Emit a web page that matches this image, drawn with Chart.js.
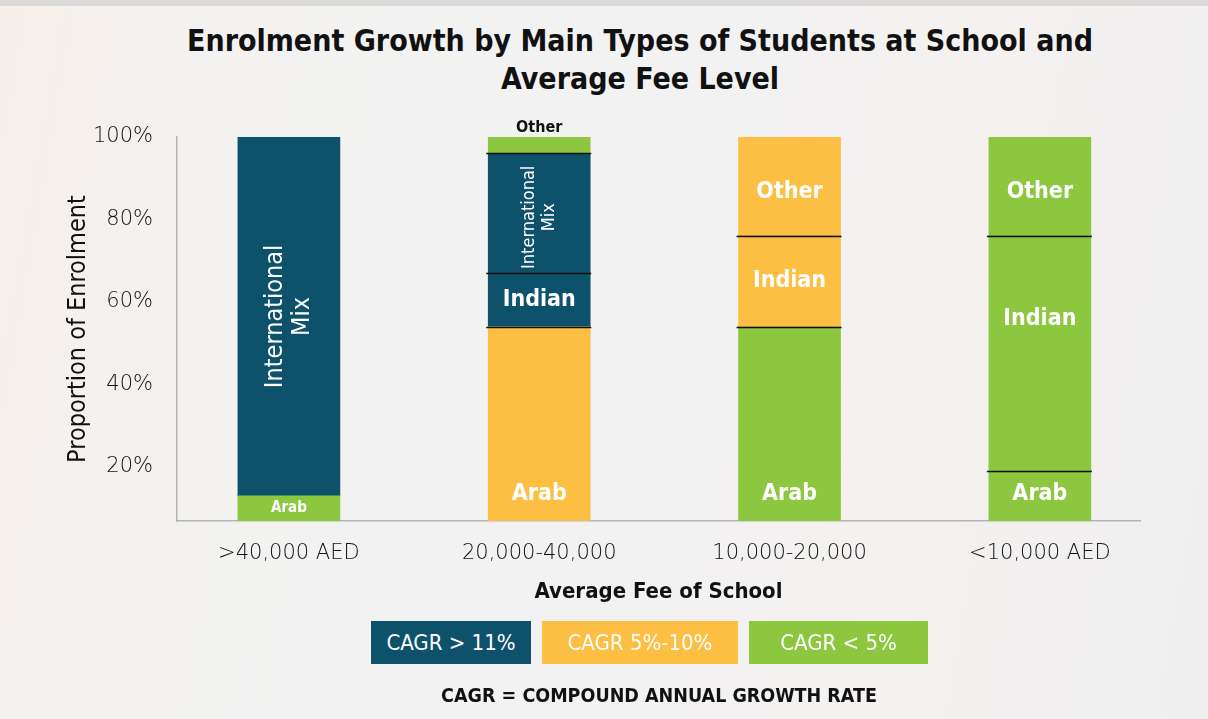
<!DOCTYPE html>
<html>
<head>
<meta charset="utf-8">
<script src="https://cdn.jsdelivr.net/npm/chart.js@4.4.1/dist/chart.umd.min.js"></script>
<style>
  html, body { margin: 0; padding: 0; }
  body {
    width: 1208px; height: 719px; overflow: hidden; position: relative;
    background: linear-gradient(100deg, #f7efe9 0%, #f3f2f1 18%, #f2f2f2 50%, #f4f1f0 75%, #efefef 100%);
    font-family: "DejaVu Sans Condensed", "DejaVu Sans", sans-serif;
  }
  #topband { position: absolute; left: 0; top: 0; width: 1208px; height: 6px; background: #dcdad9; }
  #title {
    position: absolute; left: 0; width: 1280px; top: 22px; text-align: center;
    font-size: 30px; font-weight: bold; line-height: 38px; color: #111;
  }
  #wrap { position: absolute; left: 0; top: 0; width: 1208px; height: 719px; }
  .leg {
    position: absolute; top: 621px; height: 43px; line-height: 43px; color: #fff;
    font-size: 22px; text-align: center;
  }
  #foot {
    position: absolute; left: 0; width: 1318px; top: 684px; text-align: center;
    font-size: 19.5px; font-weight: bold; color: #111;
  }
</style>
</head>
<body>
<div id="topband"></div>
<div id="title">Enrolment Growth by Main Types of Students at School and<br>Average Fee Level</div>
<div id="wrap"><canvas id="chart" width="1208" height="719"></canvas></div>
<div class="leg" style="left:371px;width:160px;background:#0d516b">CAGR &gt; 11%</div>
<div class="leg" style="left:542px;width:196px;background:#fcbe43">CAGR 5%-10%</div>
<div class="leg" style="left:749px;width:179px;background:#8dc63f">CAGR &lt; 5%</div>
<div id="foot">CAGR = COMPOUND ANNUAL GROWTH RATE</div>
<script>
// fee bands and enrolment shares (%), bottom to top
var categories = ['>40,000 AED', '20,000-40,000', '10,000-20,000', '<10,000 AED'];
var arab      = [13, 54, 54, 19];
var indian    = [0, 13, 22, 57];
var intlMix   = [87, 29, 0, 0];
var other     = [0, 4, 24, 24];
var yTicks = [20, 40, 60, 80, 100];

var TEAL = '#0d516b', ORANGE = '#fcbe43', GREEN = '#8dc63f';
var FONT = '"DejaVu Sans Condensed", "DejaVu Sans", sans-serif';
var TICKFONT = '"DejaVu Sans", sans-serif';

// colour of each segment follows its CAGR band
var arabCol   = [GREEN, ORANGE, GREEN, GREEN];
var indianCol = [TEAL, TEAL, ORANGE, GREEN];
var intlCol   = [TEAL, TEAL, TEAL, TEAL];
var otherCol  = [GREEN, GREEN, ORANGE, GREEN];

function pts(arr) { return arr.map(function (v, i) { return { x: i, y: v }; }); }

var series = [
  { name: 'Arab', vals: arab, col: arabCol },
  { name: 'Indian', vals: indian, col: indianCol },
  { name: 'International\nMix', vals: intlMix, col: intlCol },
  { name: 'Other', vals: other, col: otherCol }
];

// per segment label styling: [size, dy, rotated, outside]
var labelStyle = {
  '0,0': [15, 0], '0,1': [23, 'bottom'], '0,2': [23, 'bottom'], '0,3': [23, 'bottom'],
  '1,1': [23, 0], '1,2': [23, 0], '1,3': [23, -35],
  '2,0': [25, 0, true], '2,1': [18, 4, true],
  '3,1': [16, 0, false, true], '3,2': [23, 6], '3,3': [23, 6]
};

var segPlugin = {
  id: 'segs',
  afterDatasetsDraw: function (chart) {
    var ctx = chart.ctx;
    ctx.save();
    // separator lines between stacked segments (not on the first bar)
    for (var j = 1; j < categories.length; j++) {
      for (var d = 0; d < series.length - 1; d++) {
        var bar = chart.getDatasetMeta(d).data[j];
        if (!series[d].vals[j]) continue;
        var above = false;
        for (var k = d + 1; k < series.length; k++) if (series[k].vals[j]) above = true;
        if (!above) continue;
        ctx.strokeStyle = '#111';
        ctx.lineWidth = 1.3;
        ctx.beginPath();
        ctx.moveTo(bar.x - bar.width / 2 - 2, Math.round(bar.y) + 0.5);
        ctx.lineTo(bar.x + bar.width / 2 + 1, Math.round(bar.y) + 0.5);
        ctx.stroke();
      }
    }
    // labels
    ctx.textAlign = 'center';
    ctx.textBaseline = 'middle';
    for (var d2 = 0; d2 < series.length; d2++) {
      var meta = chart.getDatasetMeta(d2);
      for (var j2 = 0; j2 < categories.length; j2++) {
        var st = labelStyle[d2 + ',' + j2];
        if (!st || !series[d2].vals[j2]) continue;
        var el = meta.data[j2];
        var base = Math.min(el.base, chart.chartArea.bottom);
        var cy = (el.y + base) / 2;
        if (st[1] === 'bottom') cy = base - 27; else cy += st[1];
        ctx.font = (st[2] ? '500 ' : '600 ') + st[0] + 'px ' + FONT;
        ctx.fillStyle = '#fff';
        if (st[3]) { ctx.fillStyle = '#111'; cy = el.y - 9; }
        var lines = series[d2].name.split('\n');
        ctx.save();
        ctx.translate(el.x, cy);
        if (st[2]) ctx.rotate(-Math.PI / 2);
        var lh = st[0] * 1.1;
        lines.forEach(function (t, n) {
          ctx.fillText(t, 0, (n - (lines.length - 1) / 2) * lh);
        });
        ctx.restore();
      }
    }
    ctx.restore();
  }
};

new Chart(document.getElementById('chart'), {
  type: 'bar',
  data: {
    datasets: series.map(function (s) {
      return { label: s.name, data: pts(s.vals), backgroundColor: s.col, borderWidth: 0, barThickness: 102 };
    })
  },
  options: {
    responsive: false,
    animation: false,
    layout: { padding: { top: 137, right: 68, left: 0, bottom: 110 } },
    plugins: { legend: { display: false }, tooltip: { enabled: false } },
    scales: {
      x: {
        type: 'linear', stacked: true, offset: false, min: -0.447, max: 3.4,
        grid: { display: false, drawTicks: false },
        border: { display: true, color: '#b3b3b3', width: 1.5 },
        afterBuildTicks: function (s) { s.ticks = categories.map(function (c, i) { return { value: i }; }); },
        afterFit: function (s) { s.height = 88; },
        ticks: {
          autoSkip: false, maxRotation: 0, padding: 20, color: '#111',
          font: { family: TICKFONT, size: 21, weight: '200' },
          callback: function (v) { return categories[v]; }
        },
        title: {
          display: true, text: 'Average Fee of School', color: '#111',
          font: { family: FONT, size: 22, weight: '600' }, padding: { top: 4, bottom: 4 }
        }
      },
      y: {
        stacked: true, min: 6.9, max: 100,
        grid: { display: false, drawTicks: false },
        border: { display: true, color: '#b3b3b3', width: 1.5 },
        afterBuildTicks: function (s) { s.ticks = yTicks.map(function (v) { return { value: v }; }); },
        afterFit: function (s) { s.width = 177; },
        ticks: {
          padding: 24, color: '#111',
          font: { family: TICKFONT, size: 21, weight: '200' },
          callback: function (v) { return v + '%'; }
        },
        title: {
          display: true, text: 'Proportion of Enrolment', color: '#111',
          font: { family: FONT, size: 25 }, padding: { top: 63 }
        }
      }
    }
  },
  plugins: [segPlugin]
});
</script>
</body>
</html>
